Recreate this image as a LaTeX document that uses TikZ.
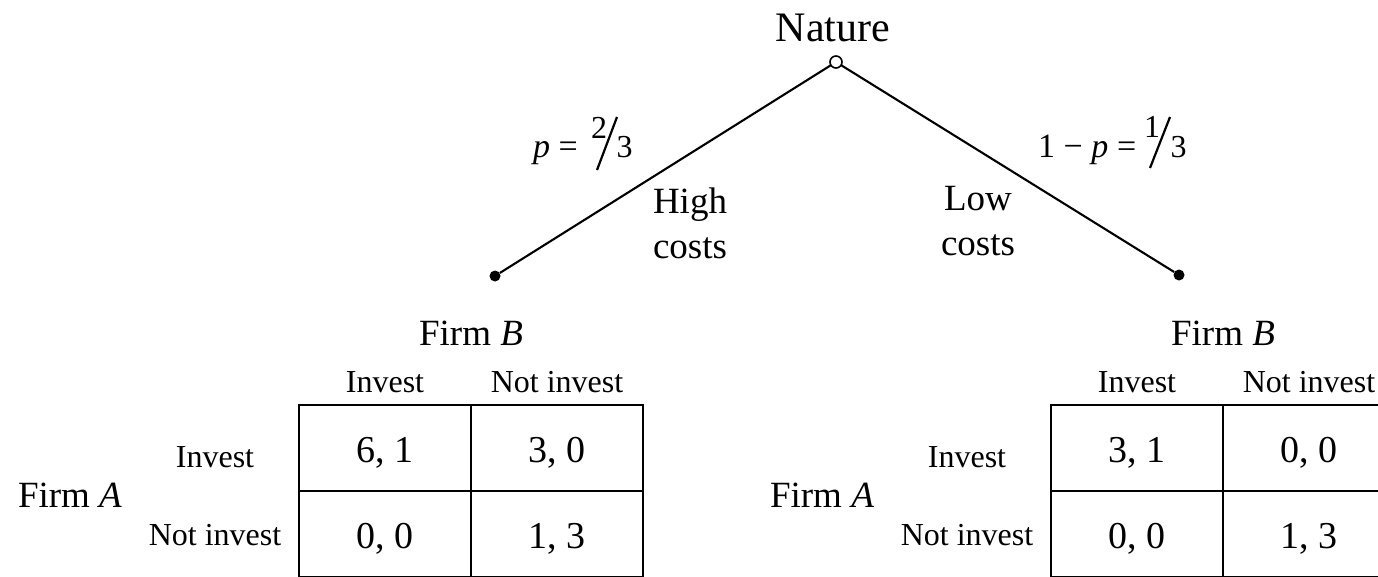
\documentclass[tikz,border=0pt]{standalone}
\usepackage{fontspec}
\setmainfont{Liberation Serif}
\newcommand{\myfs}[1]{\fontsize{#1}{#1}\selectfont}
\tikzset{
  txt/.style={inner sep=0pt, anchor=base},
  big/.style={txt, font=\myfs{42}},
  lbl/.style={txt, font=\myfs{37}},
  small/.style={txt, font=\myfs{32}},
  prob/.style={inner sep=0pt, anchor=base west, font=\myfs{34}},
  fracdigit/.style={inner sep=0pt, anchor=base, font=\myfs{32}},
  fracslash/.style={line width=2.2pt},
  cell/.style={draw, line width=2.3pt, minimum width=172pt, minimum height=86pt, inner sep=0pt,
    font=\myfs{38}, text height=28pt, text depth=0pt},
  opennode/.style={circle, draw, fill=white, line width=1.6pt, minimum size=12pt, inner sep=0pt},
  dotnode/.style={circle, fill=black, minimum size=11pt, inner sep=0pt},
  branch/.style={line width=2.1pt}
}
\begin{document}
\begin{tikzpicture}[x=1pt,y=-1pt]
\useasboundingbox (0,0) rectangle (1378,576);
% tree
\node[big] (nature) at (833,41) {Nature};
\node[dotnode] (dl) at (495,276) {};
\node[dotnode] (dr) at (1179,275) {};
\coordinate (natc) at (836,62);
\draw[branch] (natc) -- (dl);
\draw[branch] (natc) -- (dr);
\node[opennode] (nat) at (natc) {};
% probabilities
\node[prob] (pl) at (533,157) {\textit{p} =};
\node[fracdigit] (pl2) at (599,138) {2};
\node[fracdigit] (pl3) at (624.5,157) {3};
\coordinate (pls1) at (597,170);
\coordinate (pls2) at (617,117);
\draw[fracslash] (pls1) -- (pls2);
\node[prob] (pr) at (1038,157) {1 − \textit{p}};
\node[prob] (preq) at (1117,157) {=};
\node[fracdigit] (pr1) at (1152,137) {1};
\node[fracdigit] (pr3) at (1178.5,157) {3};
\coordinate (prs1) at (1150,168);
\coordinate (prs2) at (1170,117);
\draw[fracslash] (prs1) -- (prs2);
\node[lbl] (high) at (690,213) {High};
\node[lbl] (hcosts) at (690,258) {costs};
\node[lbl] (low) at (978,210) {Low};
\node[lbl] (lcosts) at (978,255) {costs};
% left matrix
\node[lbl] (lfb) at (471,345) {Firm \textit{B}};
\node[small] (lci) at (385,392) {Invest};
\node[small] (lcn) at (557,392) {Not invest};
\node[lbl] (lfa) at (70,507) {Firm \textit{A}};
\node[small] (lri) at (215,467) {Invest};
\node[small] (lrn) at (215,545) {Not invest};
\node[cell] (l11) at (385,448) {6, 1};
\node[cell] (l12) at (557,448) {3, 0};
\node[cell] (l21) at (385,534) {0, 0};
\node[cell] (l22) at (557,534) {1, 3};
% right matrix
\node[lbl] (rfb) at (1223,345) {Firm \textit{B}};
\node[small] (rci) at (1137,392) {Invest};
\node[small] (rcn) at (1309,392) {Not invest};
\node[lbl] (rfa) at (822,507) {Firm \textit{A}};
\node[small] (rri) at (967,467) {Invest};
\node[small] (rrn) at (967,545) {Not invest};
\node[cell] (r11) at (1137,448) {3, 1};
\node[cell] (r12) at (1309,448) {0, 0};
\node[cell] (r21) at (1137,534) {0, 0};
\node[cell] (r22) at (1309,534) {1, 3};
\end{tikzpicture}
\end{document}
